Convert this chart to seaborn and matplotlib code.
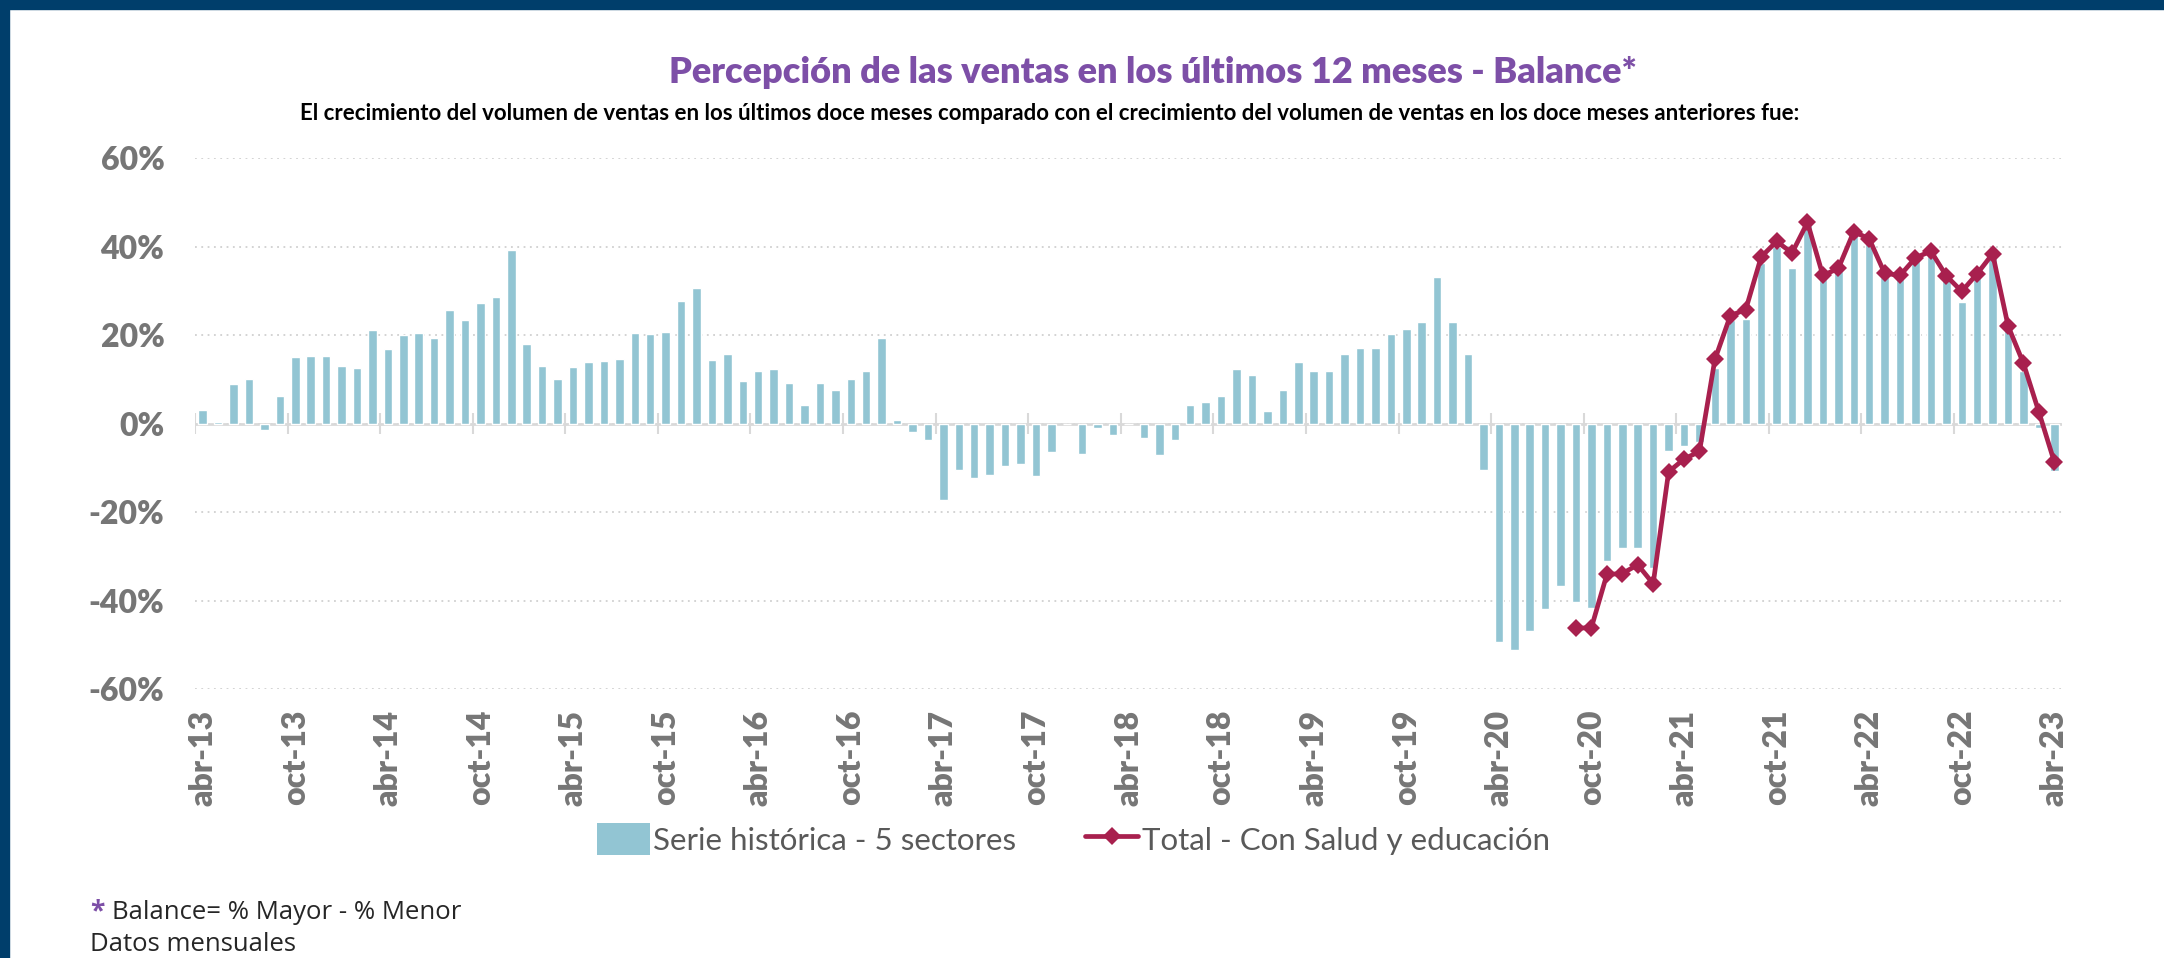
import numpy as np
import pandas as pd
import matplotlib.pyplot as plt
import seaborn as sns
from matplotlib.patches import Patch, Rectangle
from matplotlib.lines import Line2D

# Serie histórica - 5 sectores (abr-13 .. abr-23), balance en %
serie_historica = [
    3.0, 0.4, 8.9, 10.0, -1.5, 6.3, 15.1, 15.2, 15.2, 13.0, 12.6, 21.2,
    16.9, 20.0, 20.6, 19.3, 25.6, 23.5, 27.2, 28.7, 39.3, 18.0, 13.0, 10.0,
    12.9, 13.9, 14.2, 14.5, 20.6, 20.3, 20.8, 27.8, 30.6, 14.3, 15.8, 9.7,
    11.9, 12.4, 9.1, 4.3, 9.1, 7.6, 10.0, 11.9, 19.3, 0.8, -1.8, -3.7,
    -17.2, -10.5, -12.2, -11.6, -9.6, -9.1, -11.9, -6.5, 0.0, -6.8, -1.0, -2.6,
    0.0, -3.2, -7.2, -3.8, 4.3, 4.8, 6.3, 12.4, 11.1, 2.9, 7.6, 14.0,
    11.9, 11.8, 15.8, 17.1, 17.0, 20.2, 21.3, 23.0, 33.2, 23.0, 15.8, -10.4,
    -49.4, -51.1, -46.8, -42.0, -36.6, -40.4, -41.8, -31.0, -28.1, -28.1, -32.6, -6.1,
    -5.0, -4.2, 12.6, 23.5, 23.6, 36.3, 40.0, 35.2, 44.8, 32.6, 34.4, 44.5,
    41.6, 33.1, 33.1, 36.7, 40.3, 32.6, 27.5, 32.9, 37.4, 21.4, 11.8, -0.9,
    -10.8,
]

# Total - Con Salud y educación (sep-20 .. abr-23)
total_salud_educacion = [
    -46.3, -46.1, -34.1, -33.9, -31.9, -36.2, -10.9, -8.0, -6.3, 14.5, 24.4, 25.8,
    37.7, 41.2, 38.6, 45.5, 33.5, 35.1, 43.4, 41.8, 34.0, 33.5, 37.5, 39.0,
    33.4, 29.9, 33.9, 38.4, 22.1, 13.6, 2.6, -8.7,
]

etiquetas_x = [
    "abr-13", "oct-13", "abr-14", "oct-14", "abr-15", "oct-15", "abr-16",
    "oct-16", "abr-17", "oct-17", "abr-18", "oct-18", "abr-19", "oct-19",
    "abr-20", "oct-20", "abr-21", "oct-21", "abr-22", "oct-22", "abr-23",
]
ticks_y = [-60, -40, -20, 0, 20, 40, 60]

BAR = "#92C5D3"
LINE = "#A8204E"
PURPLE = "#7D4FA7"
GRAY = "#767676"
NAVY = "#003E6B"

sns.set_theme(style="white")
plt.rcParams["font.family"] = ["Lato", "DejaVu Sans"]

fig = plt.figure(figsize=(21.64, 9.58), dpi=100)
ax = fig.add_axes([0.0901, 0.2808, 0.8628, 0.554])

n = len(serie_historica)
df = pd.DataFrame({"pos": np.arange(n), "valor": serie_historica})
sns.barplot(data=df, x="pos", y="valor", color=BAR, saturation=1,
            width=0.55, ax=ax, zorder=2)

df_total = pd.DataFrame({"pos": np.arange(n - len(total_salud_educacion), n),
                         "valor": total_salud_educacion})
sns.lineplot(data=df_total, x="pos", y="valor", color=LINE, lw=3.4,
             marker="D", markersize=9.5, markeredgewidth=0, ax=ax, zorder=4)

# axes look
ax.set_xlim(-0.5, n - 0.5)
ax.set_ylim(-60, 60)
ax.set_yticks(ticks_y)
ax.set_yticklabels([f"{v}%" for v in ticks_y])
ax.set_xticks(np.arange(0, n, 6))
ax.set_xticklabels(etiquetas_x, rotation=90)
ax.set_xlabel("")
ax.set_ylabel("")
for s in ax.spines.values():
    s.set_visible(False)
ax.tick_params(axis="y", length=0, pad=22, labelsize=23, labelcolor=GRAY)
ax.tick_params(axis="x", length=0, pad=15, labelsize=23, labelcolor=GRAY)
for lbl in ax.get_xticklabels() + ax.get_yticklabels():
    lbl.set_fontweight("heavy")

ax.set_axisbelow(True)
ax.yaxis.grid(True, color="#D0D0D0", lw=1.3, ls=(0, (1, 2.5)))
ax.xaxis.grid(False)
ax.axhline(0, color="#D9D9D9", lw=2, zorder=1)
ax.vlines(np.arange(-0.5, n - 6, 6), -2.3, 2.3, color="#D9D9D9", lw=1.5, zorder=1)

# titles
fig.text(0.533, 0.924, "Percepción de las ventas en los últimos 12 meses - Balance*",
         ha="center", va="center", color=PURPLE, fontsize=26, fontweight="heavy")
fig.text(0.485, 0.882,
         "El crecimiento del volumen de ventas en los últimos doce meses comparado con "
         "el crecimiento del volumen de ventas en los doce meses anteriores fue:",
         ha="center", va="center", color="black", fontsize=16, fontweight="bold")

# legend
handles = [
    Patch(facecolor=BAR, edgecolor="none"),
    Line2D([], [], color=LINE, lw=3.4, marker="D", markersize=9.5, markeredgewidth=0),
]
fig.legend(handles, ["Serie histórica - 5 sectores", "Total - Con Salud y educación"],
           loc="center", bbox_to_anchor=(0.496, 0.124), ncol=2, frameon=False,
           fontsize=22.5, labelcolor="#595959", handlelength=1.7, handleheight=1.2,
           columnspacing=2.2, handletextpad=0.1)

# footnotes
fig.text(0.0416, 0.048, "*", color=PURPLE, fontsize=19, fontweight="bold",
         va="center", family=["Open Sans", "DejaVu Sans"])
fig.text(0.0516, 0.048, "Balance= % Mayor - % Menor", color="#262626", fontsize=18.5,
         va="center", family=["Open Sans", "DejaVu Sans"])
fig.text(0.0416, 0.0136, "Datos mensuales", color="#262626", fontsize=18.5,
         va="center", family=["Open Sans", "DejaVu Sans"])

# frame band
fig.add_artist(Rectangle((0, 0), 0.0042, 1, transform=fig.transFigure,
                         color=NAVY, zorder=10))
fig.add_artist(Rectangle((0, 0.991), 1, 0.009, transform=fig.transFigure,
                         color=NAVY, zorder=10))

fig.savefig("out.png", dpi=100)
